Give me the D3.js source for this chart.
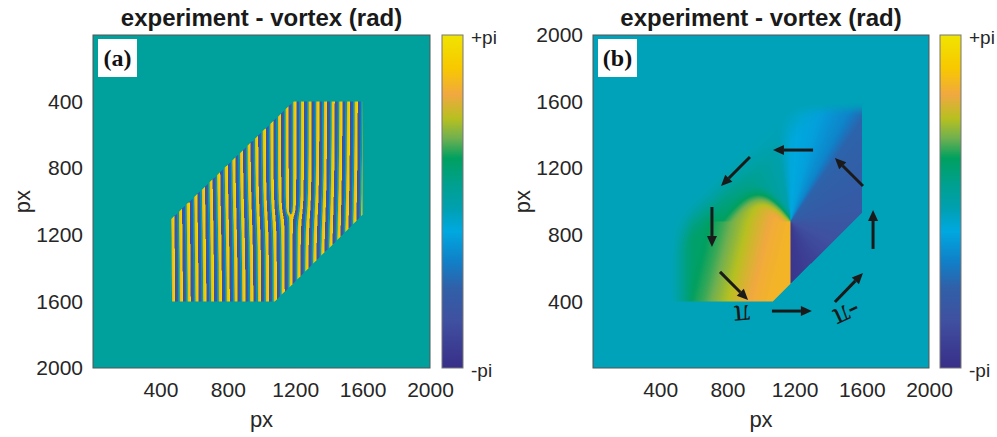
<!DOCTYPE html>
<html>
<head>
<meta charset="utf-8">
<script src="https://cdn.jsdelivr.net/npm/d3@7"></script>
<style>
  html, body { margin: 0; padding: 0; background: #fff; }
  svg { display: block; font-family: "Liberation Sans", Arial, sans-serif; }
</style>
</head>
<body>
<svg id="chart" width="997" height="437"></svg>
<script>
// ---- data ----
const titles = ['experiment - vortex (rad)', 'experiment - vortex (rad)'];
const panelTags = ['(a)', '(b)'];
const xTicks = [400, 800, 1200, 1600, 2000];
const yTicks = [400, 800, 1200, 1600, 2000];
const colorbarLabels = ['+pi', '-pi'];

// colour bar (0 = -pi, 1 = +pi)
const cmapStops = [0, 0.14, 0.24, 0.32, 0.41, 0.48, 0.55, 0.63, 0.69, 0.75, 0.82, 0.9, 1];
const cmapColors = ['#382e88', '#4050a0', '#3060a8', '#1080c8', '#00a8e0', '#00a0b0', '#00a090',
  '#00a060', '#70b050', '#b8c020', '#f0a840', '#f8c800', '#f0e400'];
const bgPhase = [0.52, 0.465];

// panel (a): fringe region (px, y down), vortex position, fringe period
const regionA = [[460, 1110], [1190, 400], [1600, 400], [1600, 1080], [1080, 1600], [460, 1600]];
const vortexA = [1170, 1075];
const fringePeriodA = 46;
// shape of one fringe: position within period -> colour-bar value
const fringePosA = [0, 0.35, 0.45, 0.55, 0.65, 1];
const fringeValA = [0.12, 0.24, 0.42, 0.6, 0.85, 0.97];

// panel (b): unwrapped vortex region (px, y up)
const regionB = [[450, 400], [450, 890], [1180, 1600], [1600, 1600], [1600, 930], [1070, 400]];
const vortexB = [1175, 880];
// phase vs. angle round the vortex (deg, counter-clockwise from straight down)
const angleStopsB = [0, 50, 100, 145, 152, 165, 180, 190, 230, 270, 300, 330, 360];
const phaseStopsB = [0.03, 0.12, 0.2, 0.25, 0.33, 0.39, 0.42, 0.49, 0.56, 0.61, 0.63, 0.65, 0.66];
// phase vs. distance left of the cut inside the yellow lobe (px)
const lobeDistB = [0, 100, 200, 300, 400, 520];
const lobePhaseB = [0.85, 0.83, 0.78, 0.72, 0.66, 0.61];
const lobeSlantB = [0.25, 0.5]; // below / above the vortex
const lobeHeightB = 150;
const lobeSpanB = 400;

// arrows in panel (b): [x1, y1, x2, y2] in px
const arrowsB = [
  [1310, 1309, 1071, 1309],
  [1607, 1093, 1440, 1261],
  [1667, 715, 1667, 949],
  [1440, 396, 1607, 571],
  [1065, 342, 1303, 342],
  [756, 577, 923, 408],
  [708, 967, 708, 727],
  [934, 1267, 762, 1093]
];
const piLabels = [
  { text: 'π', x: 887, y: 318, angle: 175 },
  { text: '-π', x: 1512, y: 324, angle: 155 }
];

// ---- layout ----
const PANELS = [
  { left: 93, top: 35, width: 337, height: 333, cbLeft: 442, flipY: false, ylabelX: 30 },
  { left: 593, top: 35, width: 336, height: 333, cbLeft: 940, flipY: true, ylabelX: 530 }
];
const CB_WIDTH = 21;
const TAU = Math.PI * 2;

const svg = d3.select('#chart');

const cmapScale = d3.scaleLinear().domain(cmapStops).range(cmapColors)
  .interpolate(d3.interpolateRgb).clamp(true);
const LUT = d3.range(256).map((i) => d3.rgb(cmapScale(i / 255)));
const lut = (v) => LUT[Math.max(0, Math.min(255, Math.round(v * 255)))];
const fringeScale = d3.scaleLinear().domain(fringePosA).range(fringeValA).clamp(true);
const angleScale = d3.scaleLinear().domain(angleStopsB).range(phaseStopsB).clamp(true);
const lobeScale = d3.scaleLinear().domain(lobeDistB).range(lobePhaseB).clamp(true);
const clamp01 = (t) => Math.max(0, Math.min(1, t));
const smooth = (t) => { t = clamp01(t); return t * t * (3 - 2 * t); };

const bgA = lut(bgPhase[0]);
const bgB = lut(bgPhase[1]);

function colourA(x, y) {
  if (!d3.polygonContains(regionA, [x, y])) return bgA;
  let ph = TAU * x / fringePeriodA + Math.atan2(y - vortexA[1], x - vortexA[0]);
  ph = ((ph % TAU) + TAU) % TAU;
  return lut(fringeScale(ph / TAU));
}

// distance inside from the soft upper-left diagonal edge of region (b)
const diag = [regionB[1], regionB[2]];
const diagLen = Math.hypot(diag[1][0] - diag[0][0], diag[1][1] - diag[0][1]);

function colourB(x, y) {
  if (!d3.polygonContains(regionB, [x, y])) return bgB;
  const dx = x - vortexB[0], dy = y - vortexB[1];
  let a = Math.atan2(dy, dx) * 180 / Math.PI + 90;
  if (a < 0) a += 360;
  let v = angleScale(a);
  if (dx < 0) {
    const h = lobeHeightB * Math.sin(Math.PI * Math.min(-dx, lobeSpanB) / lobeSpanB);
    const wL = dy <= 0 ? 1 : 1 - smooth((dy - h) / 160 + 0.5);
    const dEff = Math.max(0, -dx + (dy < 0 ? lobeSlantB[0] : lobeSlantB[1]) * dy);
    v = v * (1 - wL) + lobeScale(dEff) * wL;
  }
  const dDiag = ((x - diag[0][0]) * (diag[1][1] - diag[0][1]) -
    (y - diag[0][1]) * (diag[1][0] - diag[0][0])) / diagLen;
  const alpha = smooth(dDiag / 200) * smooth((regionB[2][1] - y) / 90) * smooth((x - regionB[0][0]) / 160);
  const c = lut(v);
  return {
    r: bgB.r + (c.r - bgB.r) * alpha,
    g: bgB.g + (c.g - bgB.g) * alpha,
    b: bgB.b + (c.b - bgB.b) * alpha
  };
}

function drawField(g, p, xScale, yScale, colourAt) {
  const S = 2;
  const w = p.width * S, h = p.height * S;
  const canvas = document.createElement('canvas');
  canvas.width = w;
  canvas.height = h;
  const ctx = canvas.getContext('2d');
  const img = ctx.createImageData(w, h);
  for (let j = 0; j < h; j++) {
    const y = yScale.invert(p.top + (j + 0.5) / S);
    for (let i = 0; i < w; i++) {
      const x = xScale.invert(p.left + (i + 0.5) / S);
      const c = colourAt(x, y);
      const k = (j * w + i) * 4;
      img.data[k] = c.r;
      img.data[k + 1] = c.g;
      img.data[k + 2] = c.b;
      img.data[k + 3] = 255;
    }
  }
  ctx.putImageData(img, 0, 0);
  g.append('image')
    .attr('x', p.left).attr('y', p.top)
    .attr('width', p.width).attr('height', p.height)
    .attr('preserveAspectRatio', 'none')
    .attr('href', canvas.toDataURL());
}

// colour bar gradient
const grad = svg.append('defs').append('linearGradient')
  .attr('id', 'parula').attr('x1', 0).attr('y1', 1).attr('x2', 0).attr('y2', 0);
grad.selectAll('stop').data(cmapStops).join('stop')
  .attr('offset', (d) => d)
  .attr('stop-color', (d, i) => cmapColors[i]);

PANELS.forEach((p, idx) => {
  const g = svg.append('g');
  const xScale = d3.scaleLinear().domain([0, 2000]).range([p.left, p.left + p.width]);
  const yScale = d3.scaleLinear().domain([0, 2000])
    .range(p.flipY ? [p.top + p.height, p.top] : [p.top, p.top + p.height]);

  drawField(g, p, xScale, yScale, idx === 0 ? colourA : colourB);

  // axes
  const xAxis = g.append('g')
    .attr('transform', `translate(0, ${p.top + p.height})`)
    .call(d3.axisBottom(xScale).tickValues(xTicks).tickFormat(d3.format('d')).tickSize(0).tickPadding(14));
  const yAxis = g.append('g')
    .attr('transform', `translate(${p.left}, 0)`)
    .call(d3.axisLeft(yScale).tickValues(yTicks).tickFormat(d3.format('d')).tickSize(0).tickPadding(10));
  [xAxis, yAxis].forEach((ax) => {
    ax.select('.domain').remove();
    ax.selectAll('text')
      .attr('font-family', '"Liberation Sans", Arial, sans-serif')
      .attr('font-size', 21)
      .attr('fill', '#262626');
  });

  g.append('rect')
    .attr('x', p.left).attr('y', p.top)
    .attr('width', p.width).attr('height', p.height)
    .attr('fill', 'none').attr('stroke', '#555').attr('stroke-width', 1);

  // title and axis labels
  g.append('text')
    .attr('x', p.left + p.width / 2).attr('y', 26)
    .attr('text-anchor', 'middle')
    .attr('font-size', 24).attr('font-weight', 'bold').attr('fill', '#1a1a1a')
    .text(titles[idx]);
  g.append('text')
    .attr('x', p.left + p.width / 2).attr('y', 427)
    .attr('text-anchor', 'middle')
    .attr('font-size', 22).attr('fill', '#262626')
    .text('px');
  g.append('text')
    .attr('transform', `translate(${p.ylabelX}, ${p.top + p.height / 2}) rotate(-90)`)
    .attr('text-anchor', 'middle')
    .attr('font-size', 22).attr('fill', '#262626')
    .text('px');

  // panel tag
  g.append('rect')
    .attr('x', p.left + 5).attr('y', p.top + 4)
    .attr('width', 39).attr('height', 38)
    .attr('fill', '#fff');
  g.append('text')
    .attr('x', p.left + 24.5).attr('y', p.top + 31)
    .attr('text-anchor', 'middle')
    .attr('font-family', '"Liberation Serif", "Times New Roman", serif')
    .attr('font-size', 24).attr('font-weight', 'bold').attr('fill', '#111')
    .text(panelTags[idx]);

  // colour bar
  g.append('rect')
    .attr('x', p.cbLeft).attr('y', p.top)
    .attr('width', CB_WIDTH).attr('height', p.height)
    .attr('fill', 'url(#parula)')
    .attr('stroke', '#777').attr('stroke-width', 1);
  const cbScale = d3.scaleLinear().domain([-Math.PI, Math.PI]).range([p.top + p.height, p.top]);
  g.selectAll('.cblabel').data(colorbarLabels).join('text')
    .attr('class', 'cblabel')
    .attr('x', p.cbLeft + CB_WIDTH + 8)
    .attr('y', (d) => cbScale(d === '+pi' ? Math.PI : -Math.PI) + 3)
    .attr('dy', '0.32em')
    .attr('font-size', 19).attr('fill', '#262626')
    .text((d) => d);

  if (idx === 1) {
    const head = 11, halfW = 5;
    arrowsB.forEach(([x1, y1, x2, y2]) => {
      const sx1 = xScale(x1), sy1 = yScale(y1), sx2 = xScale(x2), sy2 = yScale(y2);
      const ang = Math.atan2(sy2 - sy1, sx2 - sx1);
      const bx = sx2 - head * Math.cos(ang), by = sy2 - head * Math.sin(ang);
      g.append('line')
        .attr('x1', sx1).attr('y1', sy1).attr('x2', bx).attr('y2', by)
        .attr('stroke', '#1a1a1a').attr('stroke-width', 3);
      const nx = -Math.sin(ang) * halfW, ny = Math.cos(ang) * halfW;
      g.append('path')
        .attr('d', `M${sx2},${sy2}L${bx + nx},${by + ny}L${bx - nx},${by - ny}Z`)
        .attr('fill', '#1a1a1a');
    });
    g.selectAll('.pilabel').data(piLabels).join('text')
      .attr('class', 'pilabel')
      .attr('transform', (d) => `translate(${xScale(d.x)}, ${yScale(d.y)}) rotate(${d.angle})`)
      .attr('text-anchor', 'middle')
      .attr('dy', '0.3em')
      .attr('font-family', '"Liberation Serif", "Times New Roman", serif')
      .attr('font-size', 32).attr('fill', '#1a1a1a')
      .text((d) => d.text);
  }
});
</script>
</body>
</html>
